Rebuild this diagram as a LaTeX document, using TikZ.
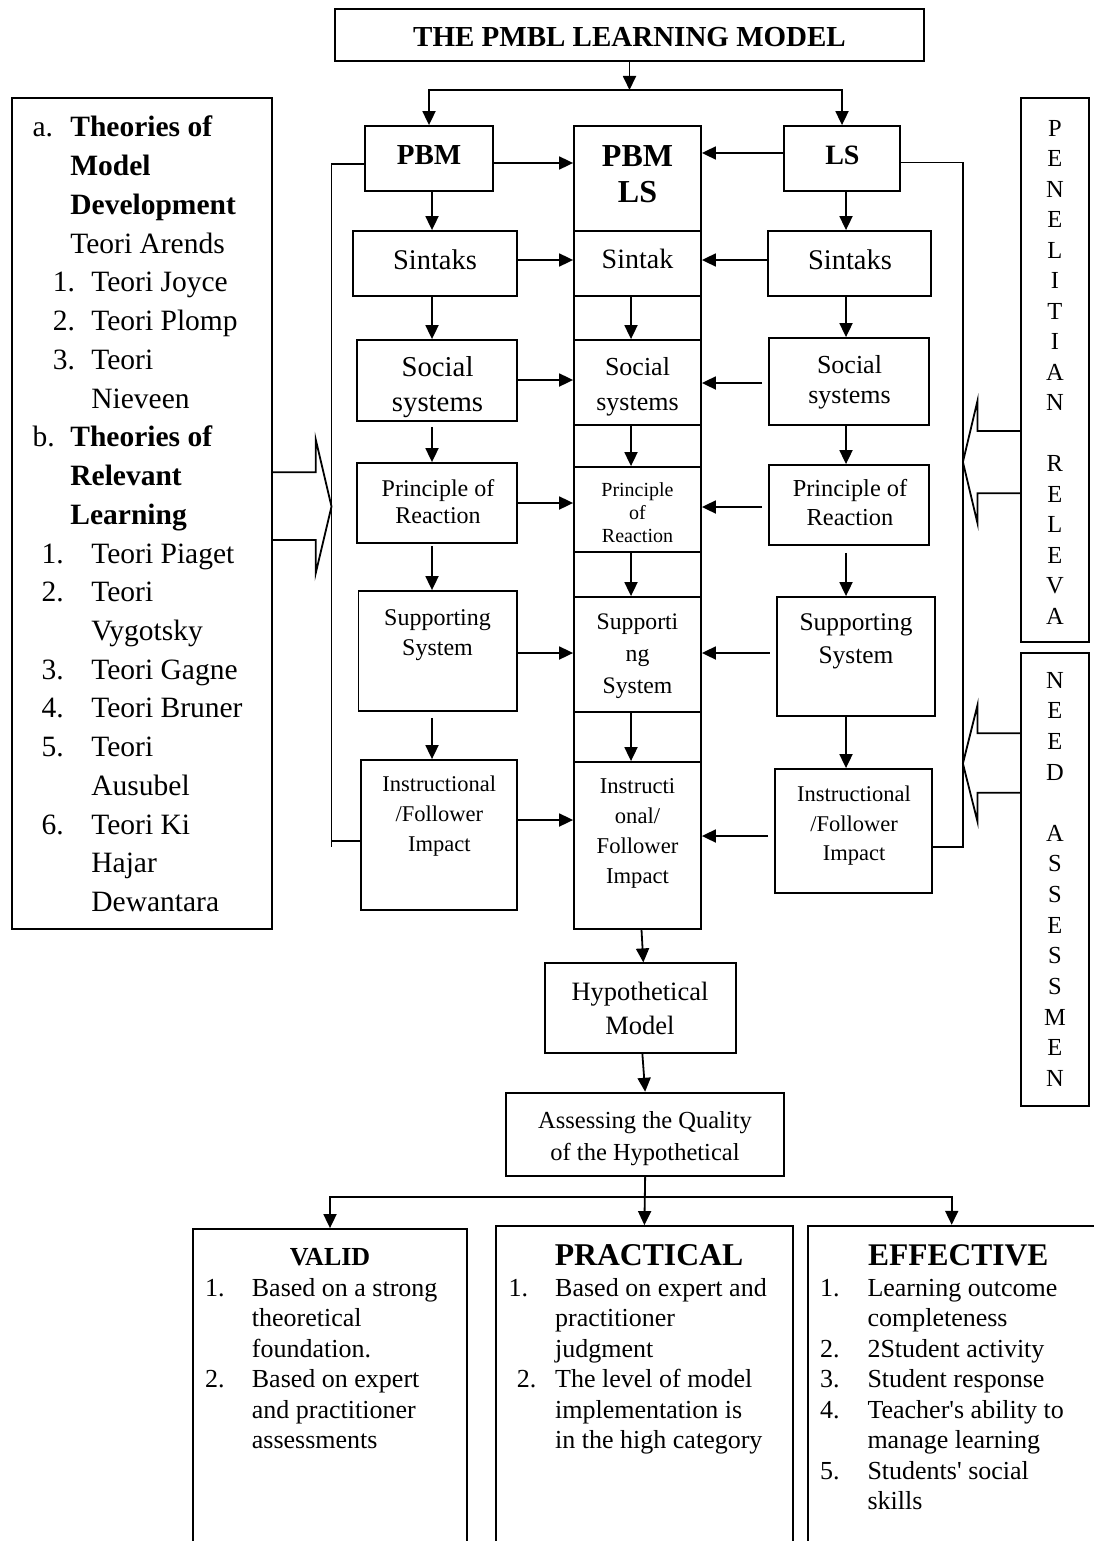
\documentclass[tikz,border=0pt]{standalone}
\usepackage{fontspec}
\setmainfont{Liberation Serif}
\usepackage{tikz}
\usetikzlibrary{arrows.meta,fit}
\newcommand{\pxfont}[2]{\fontsize{#1}{#2}\selectfont}
\tikzset{
  mbox/.style   ={draw, line width=1.8pt, inner sep=0pt},
  mtxt/.style   ={inner sep=0pt, align=center, anchor=base},
  mitem/.style  ={inner sep=0pt, anchor=base west},
  mar/.style    ={-{Triangle[length=14pt,width=13pt]}, line width=1.8pt},
  mline/.style  ={line width=1.8pt},
  mhollow/.style={line width=1.8pt, line join=miter},
}
\begin{document}
\begin{tikzpicture}[x=1pt, y=-1pt]
\useasboundingbox (0,0) rectangle (1094,1541);
\clip (0,0) rectangle (1094,1541);

% arrow columns
\coordinate (lx) at (432,0);
\coordinate (mx) at (631,0);
\coordinate (rx) at (846,0);

% title
\node[mbox, fit={(335,9) (924,61)}] (title) {};
\node[mtxt, font=\pxfont{29}{34}\bfseries] (title-t) at (629.5,46.5) {THE PMBL LEARNING MODEL};

% PBM column
\node[mbox, fit={(365,126) (493,191)}] (lpbm) {};
\node[mbox, fit={(353,231) (517,296)}] (lsin) {};
\node[mbox, fit={(357,340) (517,421)}] (lsoc) {};
\node[mbox, fit={(357,463) (517,543)}] (lpri) {};
\node[mbox, fit={(358.5,591) (517,711)}] (lsup) {};
\node[mbox, fit={(360.6,760) (517,910)}] (lins) {};
\node[mtxt, font=\pxfont{29}{34}\bfseries] (lpbm-t) at (429,165) {PBM};
\node[mtxt, font=\pxfont{28.5}{34}] (lsin-t) at (435,269) {Sintaks};
\node[mtxt, font=\pxfont{28.8}{35}] (lsoc-t) at (437.5,411.7) {Social\\systems};
\node[mtxt, font=\pxfont{24}{26.6}] (lpri-t) at (438,523.3) {Principle of\\Reaction};
\node[mtxt, font=\pxfont{24}{30}] (lsup-t) at (437.5,655) {Supporting\\System};
\node[mtxt, font=\pxfont{22.5}{30}] (lins-t) at (439.3,851.7) {Instructional\\/Follower\\Impact};

% PBM LS column
\node[mbox, fit={(574,126) (701,929)}] (core) {};
\node[mbox, fit={(574,126) (701,231)}] (mpbmls) {};
\node[mbox, fit={(574,231) (701,296)}] (msin) {};
\node[mbox, fit={(574,340) (701,425)}] (msoc) {};
\node[mbox, fit={(574,467) (701,552)}] (mpri) {};
\node[mbox, fit={(574,597) (701,712)}] (msup) {};
\node[mbox, fit={(574,762) (701,929)}] (mins) {};
\node[mtxt, font=\pxfont{32}{36}\bfseries] (mpbmls-t) at (637.5,203) {PBM\\LS};
\node[mtxt, font=\pxfont{28}{34}] (msin-t) at (637.5,268.3) {Sintak};
\node[mtxt, font=\pxfont{26}{35}] (msoc-t) at (637.5,410) {Social\\systems};
\node[mtxt, font=\pxfont{20}{23}] (mpri-t) at (637.5,542.7) {Principle\\of\\Reaction};
\node[mtxt, font=\pxfont{23.7}{31.7}] (msup-t) at (637.5,693.3) {Supporti\\ng\\System};
\node[mtxt, font=\pxfont{22.6}{30}] (mins-t) at (637.5,883.3) {Instructi\\onal/\\Follower\\Impact};

% LS column
\node[mbox, fit={(784,126) (900,191)}] (rls) {};
\node[mbox, fit={(768,231) (931,296)}] (rsin) {};
\node[mbox, fit={(769,338) (929,425)}] (rsoc) {};
\node[mbox, fit={(769,465) (929,545)}] (rpri) {};
\node[mbox, fit={(776.6,597) (935,716)}] (rsup) {};
\node[mbox, fit={(775,769) (931.7,893)}] (rins) {};
\node[mtxt, font=\pxfont{28}{34}\bfseries] (rls-t) at (842.4,165) {LS};
\node[mtxt, font=\pxfont{28.5}{34}] (rsin-t) at (850,269.3) {Sintaks};
\node[mtxt, font=\pxfont{26}{30}] (rsoc-t) at (849.5,403.3) {Social\\systems};
\node[mtxt, font=\pxfont{24.4}{28.3}] (rpri-t) at (850,525) {Principle of\\Reaction};
\node[mtxt, font=\pxfont{25.4}{33}] (rsup-t) at (856,663.3) {Supporting\\System};
\node[mtxt, font=\pxfont{22.5}{29.5}] (rins-t) at (854,860.7) {Instructional\\/Follower\\Impact};

% theories box
\node[mbox, fit={(11.6,98.3) (271.8,929)}] (theo) {};
\foreach \tx/\txt [count=\i from 0] in {70.2/\textbf{Theories of}, 70.2/\textbf{Model},
    70.2/\textbf{Development}, 70.2/Teori Arends, 91.2/Teori Joyce, 91.2/Teori Plomp,
    91.2/Teori, 91.2/Nieveen, 70.2/\textbf{Theories of}, 70.2/\textbf{Relevant},
    70.2/\textbf{Learning}, 91.2/Teori Piaget, 91.2/Teori, 91.2/Vygotsky,
    91.2/Teori Gagne, 91.2/Teori Bruner, 91.2/Teori, 91.2/Ausubel, 91.2/Teori Ki,
    91.2/Hajar, 91.2/Dewantara}
  \node[mitem, font=\pxfont{29.5}{35}] (theo-\i) at (\tx,137+38.73*\i) {\txt};
\foreach \mx/\mi/\mk in {32.3/0/a., 52.6/4/1., 52.6/5/2., 52.6/6/3., 32.3/8/b.,
    41.4/11/1., 41.4/12/2., 41.4/14/3., 41.4/15/4., 41.4/16/5., 41.4/18/6.}
  \node[mitem, font=\pxfont{29.5}{35}] (theo-m\mi) at (\mx,137+38.73*\mi) {\mk};
\draw[mhollow] (271.8,472.3) -- (315.7,472.3) -- (315.7,439.3) -- (331.5,506.5)
  -- (315.7,573.3) -- (315.7,540) -- (271.8,540);

% side boxes
\node[mbox, fit={(1020.9,98.3) (1088.9,641.7)}] (pen) {};
\node[mtxt, font=\pxfont{24.5}{30.5}] (pen-t) at (1054.9,624.4)
  {P\\E\\N\\E\\L\\I\\T\\I\\A\\N\\[30.5pt]R\\E\\L\\E\\V\\A};
\node[mbox, fit={(1020.9,653.3) (1088.9,1105.7)}] (need) {};
\node[mtxt, font=\pxfont{24.5}{30.64}] (need-t) at (1054.9,1086.4)
  {N\\E\\E\\D\\[30.64pt]A\\S\\S\\E\\S\\S\\M\\E\\N};
\draw[mhollow] (1020.9,431) -- (977.5,431) -- (977.5,400.7) -- (962.9,462)
  -- (977.5,523.3) -- (977.5,493.3) -- (1020.9,493.3);
\draw[mhollow] (1020.9,733.3) -- (977.5,733.3) -- (977.5,705) -- (962.9,763.5)
  -- (977.5,821.7) -- (977.5,792.7) -- (1020.9,792.7);

% hypothetical model and quality
\node[mbox, fit={(545,963.3) (735.7,1052.7)}] (hyp) {};
\node[mtxt, font=\pxfont{26.5}{34.3}] (hyp-t) at (640,1034.3) {Hypothetical\\Model};
\node[mbox, fit={(506,1092.7) (784.3,1176)}] (assess) {};
\node[mtxt, font=\pxfont{24.5}{31.7}] (assess-t) at (645,1160)
  {Assessing the Quality\\of the Hypothetical};

% criteria
\node[mbox, fit={(193.3,1229) (466.7,1570)}] (valid) {};
\node[mbox, fit={(496,1226) (792.7,1570)}] (prac) {};
\node[mbox, fit={(808.3,1225.7) (1095.1,1570)}] (effect) {};
\node[mtxt, font=\pxfont{26}{30}\bfseries] (valid-t) at (330,1265) {VALID};
\node[mtxt, font=\pxfont{31.7}{36}\bfseries] (prac-t) at (649,1265) {PRACTICAL};
\node[mtxt, font=\pxfont{31.5}{36}\bfseries] (effect-t) at (958.3,1265) {EFFECTIVE};
\foreach \tx/\yy/\txt [count=\i] in {251.7/1296/Based on a strong, 251.7/1326.5/theoretical,
    251.7/1357/foundation., 251.7/1387.5/Based on expert, 251.7/1418/and practitioner,
    251.7/1448.5/assessments,
    555/1296/Based on expert and, 555/1326.5/practitioner, 555/1357/judgment,
    555/1387.5/The level of model, 555/1418/implementation is, 555/1448.5/in the high category,
    867.3/1296/Learning outcome, 867.3/1326.5/completeness, 867.3/1357/2Student activity,
    867.3/1387.5/Student response, 867.3/1418/Teacher\textquotesingle s ability to,
    867.3/1448.5/manage learning, 867.3/1479/Students\textquotesingle\ social, 867.3/1509.5/skills}
  \node[mitem, font=\pxfont{26}{30.5}] (crit-\i) at (\tx,\yy) {\txt};
\foreach \mx/\yy/\mk [count=\i] in {205/1296/1., 205/1387.5/2., 508.3/1296/1., 516.7/1387.5/2.,
    820/1296/1., 820/1357/2., 820/1387.5/3., 820/1418/4., 820/1479/5.}
  \node[mitem, font=\pxfont{26}{30.5}] (crit-m\i) at (\mx,\yy) {\mk};

% connectors
\coordinate (split) at (629.5,90);
\draw[mar] (title) -- (split);
\draw[mar] (split) -| (lpbm);
\draw[mar] (split) -| (rls);

\draw[mar] (lpbm.south -| lx) -- (lsin.north -| lx);
\draw[mar] (lsin.south -| lx) -- (lsoc.north -| lx);
\draw[mar, shorten <=5pt] (lsoc.south -| lx) -- (lpri.north -| lx);
\draw[mar, shorten <=2pt] (lpri.south -| lx) -- (lsup.north -| lx);
\draw[mar, shorten <=6pt] (lsup.south -| lx) -- (lins.north -| lx);

\draw[mar] (msin.south -| mx) -- (msoc.north -| mx);
\draw[mar] (msoc.south -| mx) -- (mpri.north -| mx);
\draw[mar] (mpri.south -| mx) -- (msup.north -| mx);
\draw[mar] (msup.south -| mx) -- (mins.north -| mx);

\draw[mar] (rls.south -| rx) -- (rsin.north -| rx);
\draw[mar] (rsin.south -| rx) -- (rsoc.north -| rx);
\draw[mar] (rsoc.south -| rx) -- (rpri.north -| rx);
\draw[mar, shorten <=7pt] (rpri.south -| rx) -- (rsup.north -| rx);
\draw[mar] (rsup.south -| rx) -- (rins.north -| rx);

\path (lpbm.east) ++(0,4.5) coordinate (lh1)
      (lsin.east) ++(0,-3.5) coordinate (lh2)
      (lsoc.east) ++(0,-0.5) coordinate (lh3)
      (lpri.east) coordinate (lh4)
      (lsup.east) ++(0,2) coordinate (lh5)
      (lins.east) ++(0,-15) coordinate (lh6)
      (rls.west) ++(0,-5.5) coordinate (rh1)
      (rsin.west) ++(0,-3.5) coordinate (rh2)
      (rsoc.west) ++(0,1.5) coordinate (rh3)
      (rpri.west) ++(0,2) coordinate (rh4)
      (rsup.west) ++(0,-3.5) coordinate (rh5)
      (rins.west) ++(0,5) coordinate (rh6);
\foreach \i in {1,...,6}
  \draw[mar] (lh\i) -- (lh\i -| core.west);
\draw[mar] (rh1) -- (rh1 -| core.east);
\draw[mar] (rh2) -- (rh2 -| core.east);
\foreach \i in {3,...,6}
  \draw[mar, shorten <=6pt] (rh\i) -- (rh\i -| core.east);

% feedback lines
\coordinate (fbl) at (331.5,847);
\coordinate (fbr) at (963,847.3);
\draw[mline] (lpbm.west) ++(0,5.5) -| (fbl);
\draw[mline] (lins.west) ++(0,6) coordinate (fl2) -- (fl2 -| fbl);
\draw[mline] (rls.east) ++(0,4) -| (fbr) -- (fbr -| rins.east);

\draw[mar] ([xshift=4pt]core.south) -- ([xshift=3pt]hyp.north);
\draw[mar] ([xshift=2pt]hyp.south) -- (assess.north);
\coordinate (fork) at (645,1196.7);
\draw[mar] (assess.south) -- (prac.north);
\draw[mar] (fork) -| (valid);
\draw[mar] (fork) -| (effect);
\end{tikzpicture}
\end{document}
